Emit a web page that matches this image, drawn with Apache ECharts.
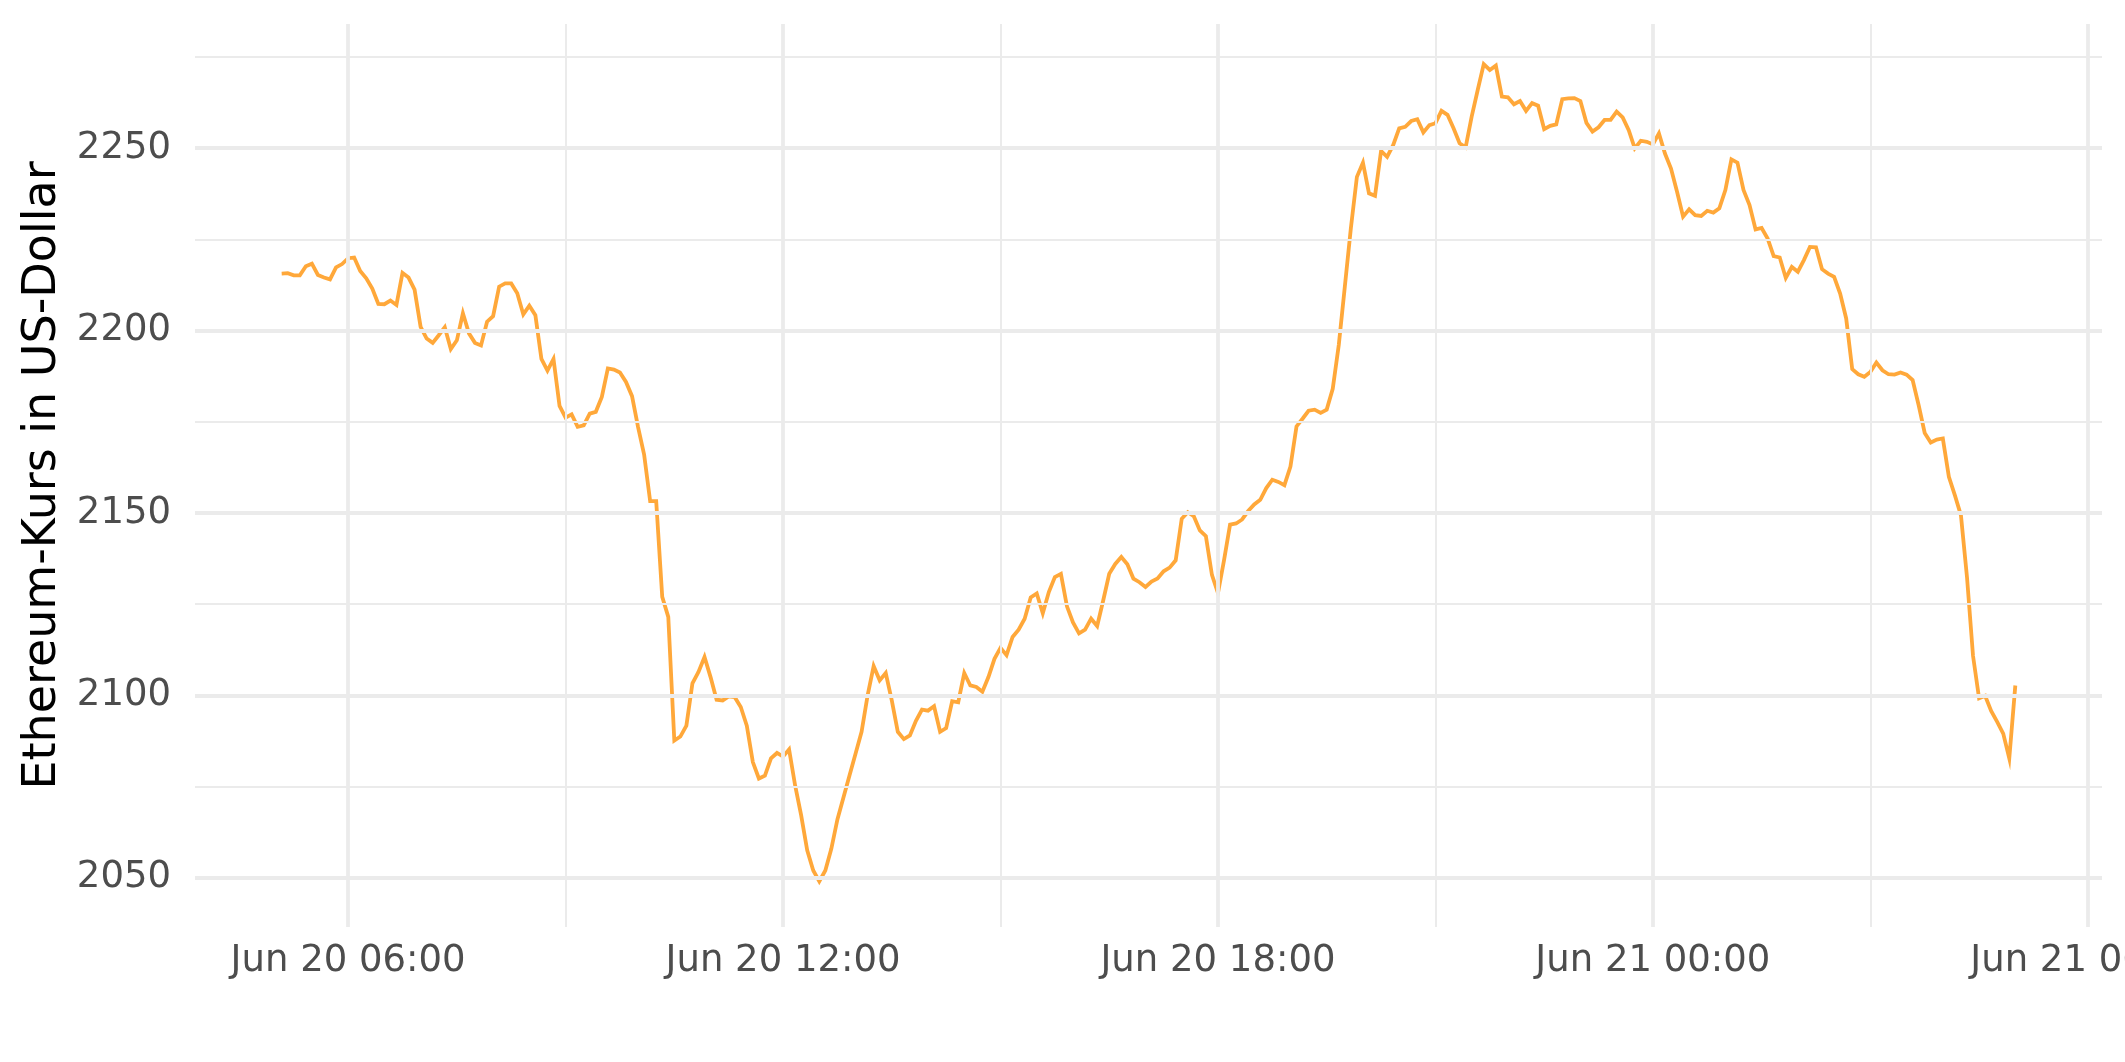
<!DOCTYPE html>
<html>
<head>
<meta charset="utf-8">
<script src="https://cdn.jsdelivr.net/npm/echarts@6/dist/echarts.min.js"></script>
<style>
html,body{margin:0;padding:0;background:#fff;overflow:hidden;}
#chart{width:2125px;height:1062px;}
</style>
</head>
<body>
<div id="chart"></div>
<script>
// Time grid: 5-minute steps, minutes since Jun 20 00:00
const startMinute = 305;   // Jun 20 05:05
const stepMinutes = 5;

// Ethereum price in USD (5-minute samples)
const prices = [
2215.6,2215.7,2215.1,2215.1,2217.6,2218.3,2215.2,2214.5,2214.0,2217.3,
2218.2,2219.8,2220.0,2216.3,2214.3,2211.5,2207.3,2207.2,2208.2,2207.0,
2215.8,2214.5,2211.2,2201.0,2197.8,2196.6,2198.7,2200.9,2194.9,2197.3,
2204.7,2199.2,2196.6,2195.9,2202.4,2203.9,2212.0,2212.9,2212.9,2210.2,
2204.4,2206.8,2204.2,2192.2,2189.0,2192.2,2179.3,2176.1,2177.0,2173.6,
2174.0,2177.2,2177.7,2181.8,2189.6,2189.3,2188.5,2185.9,2182.0,2173.5,
2166.0,2153.2,2153.2,2127.0,2121.5,2087.6,2088.7,2091.7,2103.3,2106.4,
2110.5,2105.0,2098.8,2098.6,2099.7,2099.5,2096.8,2091.7,2081.7,2077.2,
2078.0,2082.7,2084.2,2083.2,2085.2,2075.3,2067.1,2057.5,2052.0,2049.0,
2052.0,2058.0,2066.0,2072.0,2078.0,2084.0,2090.0,2100.0,2108.0,2104.1,
2106.1,2098.6,2090.0,2088.0,2089.0,2093.0,2096.1,2095.8,2097.0,2090.0,
2091.0,2098.4,2098.1,2106.1,2102.7,2102.3,2101.0,2105.0,2110.0,2113.0,
2111.0,2116.0,2118.0,2121.0,2126.8,2127.9,2122.5,2128.3,2132.4,2133.3,
2124.4,2120.0,2117.0,2118.0,2121.0,2119.0,2126.0,2133.3,2136.0,2137.9,
2135.9,2132.0,2131.0,2129.7,2131.2,2132.0,2134.0,2135.0,2137.0,2148.4,
2150.2,2149.1,2145.2,2143.6,2133.0,2128.0,2137.0,2146.8,2147.1,2148.2,
2150.5,2152.3,2153.6,2156.8,2159.1,2158.5,2157.6,2162.7,2173.7,2175.8,
2178.0,2178.3,2177.4,2178.3,2184.0,2196.0,2212.0,2228.0,2242.1,2246.0,
2237.6,2236.9,2249.2,2247.6,2250.8,2255.4,2255.8,2257.4,2257.9,2254.3,
2256.3,2256.8,2260.2,2259.1,2255.4,2251.3,2250.2,2258.6,2265.9,2273.0,
2271.4,2272.6,2264.1,2263.9,2262.0,2262.9,2260.2,2262.3,2261.6,2255.2,
2256.1,2256.5,2263.4,2263.6,2263.7,2262.9,2256.9,2254.5,2255.7,2257.7,
2257.7,2260.0,2258.4,2254.9,2249.9,2252.0,2251.7,2251.0,2254.0,2248.5,
2244.4,2238.0,2231.2,2233.2,2231.6,2231.4,2232.8,2232.3,2233.5,2238.5,
2246.9,2246.0,2238.5,2234.4,2227.7,2228.1,2225.2,2220.4,2220.0,2214.4,
2217.4,2216.1,2219.3,2222.9,2222.8,2216.8,2215.6,2214.7,2210.1,2203.3,
2189.4,2188.0,2187.3,2188.6,2191.2,2189.1,2188.0,2187.9,2188.5,2187.9,
2186.4,2179.5,2171.9,2169.3,2170.1,2170.4,2159.9,2154.8,2149.3,2132.4,
2110.8,2099.2,2099.9,2095.7,2092.7,2089.5,2082.7,2102.7
];

// Axis ticks
const xMajorTicks = [360, 720, 1080, 1440, 1800];
const xMajorLabels = ['Jun 20 06:00', 'Jun 20 12:00', 'Jun 20 18:00', 'Jun 21 00:00', 'Jun 21 06:00'];
const xMinorTicks = [540, 900, 1260, 1620];
const yMajorTicks = [2050, 2100, 2150, 2200, 2250];
const yMinorTicks = [2075, 2125, 2175, 2225, 2275];

const xMin = 233.25, xMax = 1811.75;
const yMin = 2036.5, yMax = 2284;

const seriesData = prices.map((p, i) => [startMinute + i * stepMinutes, p]);

const gridColor = '#EBEBEB';
const gridLines = [];
yMinorTicks.forEach(v => gridLines.push({yAxis: v, lineStyle: {width: 2, color: gridColor, type: 'solid'}}));
xMinorTicks.forEach(v => gridLines.push({xAxis: v, lineStyle: {width: 2, color: gridColor, type: 'solid'}}));
yMajorTicks.forEach(v => gridLines.push({yAxis: v, lineStyle: {width: 3.8, color: gridColor, type: 'solid'}}));
xMajorTicks.forEach(v => gridLines.push({xAxis: v, lineStyle: {width: 3.8, color: gridColor, type: 'solid'}}));

const chart = echarts.init(document.getElementById('chart'), null, {renderer: 'canvas'});
chart.setOption({
  animation: false,
  backgroundColor: '#ffffff',
  textStyle: {fontFamily: 'DejaVu Sans'},
  grid: {left: 195, right: 23, top: 24, bottom: 135, containLabel: false, outerBoundsMode: 'none'},
  xAxis: {
    type: 'value',
    min: xMin, max: xMax,
    axisLine: {show: false},
    axisTick: {show: false, customValues: xMajorTicks},
    splitLine: {show: false},
    axisLabel: {
      customValues: xMajorTicks,
      hideOverlap: false,
      color: '#4D4D4D', fontSize: 37, fontFamily: 'DejaVu Sans', margin: 16,
      formatter: v => { const k = xMajorTicks.indexOf(v); return k >= 0 ? xMajorLabels[k] : ''; }
    }
  },
  yAxis: {
    type: 'value',
    min: yMin, max: yMax,
    name: 'Ethereum-Kurs in US-Dollar',
    nameLocation: 'middle',
    nameRotate: 90,
    nameGap: 125,
    nameTextStyle: {color: '#000000', fontSize: 46, fontFamily: 'DejaVu Sans'},
    axisLine: {show: false},
    axisTick: {show: false, customValues: yMajorTicks},
    splitLine: {show: false},
    axisLabel: {
      customValues: yMajorTicks,
      color: '#4D4D4D', fontSize: 37, fontFamily: 'DejaVu Sans', margin: 24,
      formatter: v => String(v)
    }
  },
  series: [
    {
      type: 'line', data: [], z: 1, silent: true,
      markLine: {silent: true, symbol: ['none', 'none'], label: {show: false}, animation: false, data: gridLines}
    },
    {
      type: 'line', data: seriesData, z: 3, showSymbol: false, smooth: false,
      lineStyle: {color: '#FFA83A', width: 3.8, join: 'miter'}
    }
  ]
});
</script>
</body>
</html>
